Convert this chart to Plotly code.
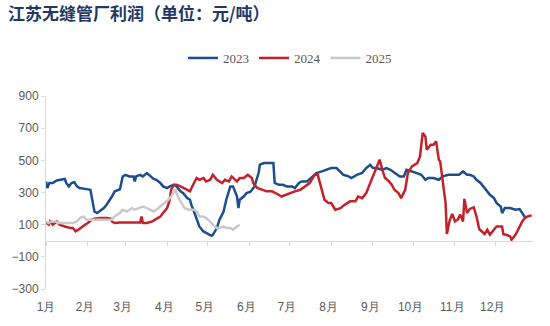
import plotly.graph_objects as go

# ---- data (x = day of year, y = profit in yuan/ton) ----
months = ["1月", "2月", "3月", "4月", "5月", "6月", "7月", "8月", "9月", "10月", "11月", "12月"]
month_start_days = [0, 31, 59, 90, 120, 151, 181, 212, 243, 273, 304, 334]

days_2023 = [0, 1, 2.5, 5, 8, 12, 14, 15, 17, 19, 21, 23, 25, 30, 33, 36, 38, 43, 45, 49, 51, 54, 55, 57, 59,
             62, 65, 66, 67, 70, 72, 75, 77, 80, 82, 85, 87, 90, 92, 95, 97, 100, 102, 105, 107, 108, 110,
             112, 114, 117, 119, 123, 124, 127, 129, 132, 134, 137, 139, 142, 143, 144, 147, 149, 152, 155,
             158, 159, 162, 167, 169, 170, 173, 176, 179, 183, 185, 188, 190, 194, 198, 201, 205, 209, 212,
             216, 219, 221, 225, 227, 231, 235, 238, 241, 243, 246, 250, 253, 256, 259, 263, 266, 268, 272,
             276, 279, 282, 284, 288, 292, 295, 299, 304, 307, 310, 313, 315, 318, 320, 323, 325, 328, 330,
             333, 335, 338, 339, 341, 345, 349, 352, 354, 356]
vals_2023 = [369, 328, 359, 359, 375, 379, 384, 359, 338, 359, 365, 338, 328, 321, 317, 182, 172, 203, 224, 275,
             307, 317, 321, 400, 410, 400, 400, 369, 400, 410, 400, 421, 404, 384, 379, 359, 338, 328, 338,
             348, 338, 307, 296, 265, 255, 224, 182, 131, 89, 58, 48, 31, 37, 79, 131, 182, 255, 338, 338,
             275, 203, 255, 275, 296, 305, 338, 421, 473, 483, 483, 483, 359, 348, 348, 338, 338, 328, 359,
             369, 369, 400, 421, 431, 441, 452, 452, 426, 410, 400, 390, 410, 421, 452, 473, 452, 452, 441,
             452, 441, 421, 400, 400, 441, 431, 421, 410, 379, 390, 390, 379, 400, 410, 410, 410, 431, 410,
             410, 400, 379, 359, 338, 307, 286, 265, 234, 213, 172, 203, 203, 193, 197, 172, 148]

days_2024 = [0, 2, 3, 5, 8, 10, 14, 18, 20, 22, 24, 27, 29, 31, 34, 36, 40, 45, 48, 49, 51, 55, 60, 64, 67,
             70, 71, 72, 75, 79, 81, 85, 87, 90, 92, 93, 95, 97, 100, 102, 105, 107, 110, 112, 114, 117,
             119, 122, 124, 127, 131, 133, 136, 138, 142, 144, 147, 149, 150, 153, 154, 157, 160, 164, 168,
             170, 173, 175, 178, 181, 185, 189, 193, 196, 199, 200, 202, 205, 207, 210, 212, 215, 219, 221,
             224, 226, 230, 232, 235, 238, 241, 243, 246, 248, 250, 252, 255, 257, 259, 262, 264, 267, 269,
             272, 276, 278, 279, 280, 282, 283, 286, 288, 290, 292, 293, 295, 297, 298, 300, 302, 304, 306,
             308, 310, 311, 313, 315, 318, 320, 322, 324, 326, 328, 330, 333, 335, 336, 339, 340, 342, 345,
             346, 349, 351, 354, 356, 358, 361]
vals_2024 = [114, 100, 120, 100, 120, 100, 89, 79, 79, 58, 68, 89, 100, 110, 131, 137, 141, 141, 137, 120, 110,
             114, 114, 110, 110, 114, 151, 110, 110, 120, 131, 151, 172, 203, 255, 317, 348, 348, 338, 328,
             317, 307, 359, 390, 379, 390, 369, 379, 410, 379, 359, 379, 369, 400, 369, 390, 390, 400, 410,
             390, 359, 328, 317, 307, 307, 300, 286, 275, 286, 296, 307, 317, 338, 359, 400, 410, 410, 317,
             255, 234, 234, 193, 203, 218, 234, 245, 245, 275, 265, 296, 359, 400, 462, 504, 441, 390, 369,
             348, 317, 296, 265, 317, 421, 462, 483, 524, 597, 670, 649, 566, 597, 597, 618, 504, 493, 369,
             234, 42, 125, 167, 120, 131, 162, 120, 260, 172, 198, 208, 151, 73, 58, 42, 68, 37, 70, 89, 89,
             89, 40, 37, 27, 6, 37, 68, 120, 141, 151, 158]

days_2025 = [0, 2, 4, 7, 9, 13, 17, 20, 23, 25, 28, 30, 31, 35, 45, 49, 51, 55, 57, 60, 64, 66, 69, 72, 75,
             77, 80, 82, 85, 88, 91, 93, 95, 96, 98, 101, 103, 106, 110, 112, 114, 117, 119, 122, 124, 127,
             129, 132, 134, 137, 139, 142, 144]
vals_2025 = [120, 110, 120, 120, 110, 110, 106, 110, 120, 141, 151, 131, 131, 131, 131, 131, 151, 172, 193, 182,
             203, 193, 203, 213, 203, 193, 182, 193, 213, 234, 255, 275, 300, 320, 275, 234, 203, 193, 193,
             182, 151, 151, 141, 120, 100, 79, 79, 89, 79, 79, 68, 89, 100]

series = [
    ("2023", days_2023, vals_2023, "#1C4E8E"),
    ("2024", days_2024, vals_2024, "#C3222B"),
    ("2025", days_2025, vals_2025, "#C9C9C9"),
]

fig = go.Figure()
for name, xs, ys, col in series:
    fig.add_trace(go.Scatter(x=xs, y=ys, name=name, mode="lines",
                             line=dict(color=col, width=2.5), xaxis="x", yaxis="y"))

# invisible trace carrying the bottom month-label axis
fig.add_trace(go.Scatter(x=[0], y=[None], xaxis="x2", yaxis="y", showlegend=False,
                         hoverinfo="skip", mode="lines"))

W, H = 550, 326
ml, mr, mt, mb = 40, 17, 96, 37
pw = W - ml - mr
x0 = (46 - ml) / pw

axis_gray = "#D9D9D9"
label_gray = "#595959"

fig.update_layout(
    width=W, height=H,
    margin=dict(l=ml, r=mr, t=mt, b=mb),
    paper_bgcolor="white", plot_bgcolor="white",
    title=dict(text="<b>江苏无缝管厂利润（单位：元/吨）</b>",
               font=dict(family="Noto Sans CJK SC", size=17, color="#1F3864"),
               x=8 / W, xanchor="left", xref="container",
               y=1 - 14 / H, yanchor="middle", yref="container"),
    showlegend=True,
    legend=dict(orientation="h", x=(290 - ml) / pw, xanchor="center",
                y=(H - mb - 58) / (H - mt - mb), yanchor="middle",
                font=dict(family="Liberation Serif", size=13, color=label_gray),
                bgcolor="rgba(0,0,0,0)", itemwidth=30),
    xaxis=dict(domain=[x0, 1], range=[0, 362], anchor="free", position=0.25,
               showline=True, linecolor=axis_gray, linewidth=1,
               ticks="outside", ticklen=4, tickcolor=axis_gray,
               tickvals=month_start_days, showticklabels=False,
               showgrid=False, zeroline=False),
    xaxis2=dict(domain=[x0, 1], range=[0, 362], overlaying="x", anchor="y", side="bottom",
                tickvals=[d - 2 if d > 0 else 0 for d in month_start_days], ticktext=months,
                ticks="outside", ticklen=7, tickcolor="rgba(0,0,0,0)",
                tickfont=dict(family="Liberation Sans", size=12, color=label_gray),
                showline=False, showgrid=False, zeroline=False),
    yaxis=dict(domain=[0, 1], range=[-300, 900], anchor="x",
               tickvals=[-300, -100, 100, 300, 500, 700, 900],
               showline=True, linecolor=axis_gray, linewidth=1,
               ticks="outside", ticklen=4, tickcolor=axis_gray,
               tickfont=dict(family="Liberation Sans", size=12, color=label_gray),
               showgrid=False, zeroline=False),
)

fig.write_html("out.html")
